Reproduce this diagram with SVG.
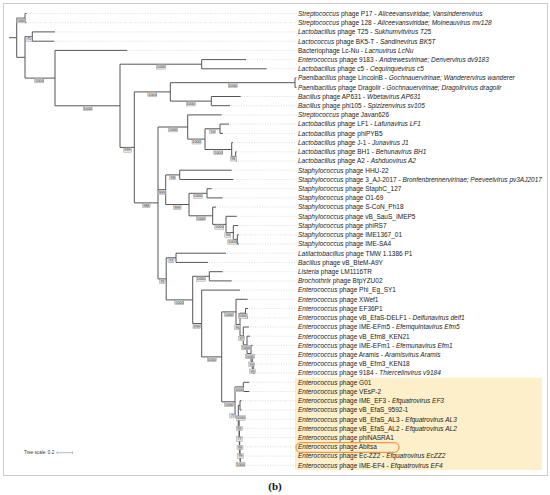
<svg xmlns="http://www.w3.org/2000/svg" width="550" height="495" viewBox="0 0 550 495">
<style>
.lbl{font-family:"Liberation Sans",Arial,sans-serif;font-size:6.5px;fill:#222}
.i{font-style:italic}
.br{fill:none;stroke:#555;stroke-width:1}
.ld{fill:none;stroke:#bbb;stroke-width:0.5;stroke-dasharray:1 1.5}
.bs rect{fill:#e6e6e6;stroke:#8a8a8a;stroke-width:0.4}
.bs text{font-family:"Liberation Sans",Arial,sans-serif;font-size:3.8px;fill:#333;text-anchor:middle}
</style>
<rect x="3.5" y="3.5" width="544" height="472" fill="#fff" stroke="#ccc" stroke-width="1"/>
<rect id="highlight" x="295" y="377.7" width="247" height="92.3" fill="#fcefc9"/>
<g id="leaders" class="ld">
<path d="M27.5,13.5H296M27.5,22.7H296M56,31.9H296M55.3,41.2H296M128.3,50.4H296M247,59.6H296M267.7,68.8H296M241.7,96.5H296M231,105.7H296M222.7,114.9H296M230,124.1H296M224,133.4H296M234,142.6H296M237.7,151.8H296M237.7,161H296M232.7,170.2H296M234.3,179.5H296M212.7,188.7H296M223.7,197.9H296M217,207.1H296M237.7,216.3H296M239.3,225.6H296M240,234.8H296M240,244H296M227,253.2H296M209,262.4H296M223.7,271.7H296M232.7,280.9H296M241,290.1H296M248.7,299.3H296M249,308.5H296M249,317.8H296M250,327H296M251,336.2H296M253.5,345.4H296M255,354.6H296M256,363.9H296M256,373.1H296M250.3,382.3H296M250.3,391.5H296M242.5,400.7H296M242.5,410H296M242.5,419.2H296M242.5,428.4H296M242.5,437.6H296M242.5,446.8H296M242.5,456.1H296M242.5,465.3H296"/>
</g>
<g id="connectors" class="br">
<path d="M9,37.7H16.7M16.7,18.1V57.3M16.7,18.1H25M16.7,57.3H25
M25,13.5V22.7M25,13.5H26.5M25,22.7H26.5
M25,36.6V78.1M25,36.6H32.3M25,78.1H55
M32.3,31.9V41.2M32.3,31.9H55M32.3,41.2H54.3
M55,50.4V105.8M55,50.4H127.3M55,105.8H120
M120,64.2V147.4M120,64.2H201.7M120,147.4H134.3
M201.7,59.6V68.8M201.7,59.6H246M201.7,68.8H266.7
M134.3,91.9V202.9M134.3,91.9H170.3M134.3,202.9H158
M170.3,82.7V101.1M170.3,82.7H295M170.3,101.1H211.3
M295,78V87.3M295,78H296.5M295,87.3H296.5
M211.3,96.5V105.7M211.3,96.5H240.7M211.3,105.7H230
M158,127V278.9M158,127H187.7M158,189.7H165.7M158,278.9H166.2
M187.7,114.9V139.1M187.7,114.9H221.7M187.7,139.1H205
M205,128.8V149.5M205,128.8H220M205,149.5H231.7
M220,124.1V133.4M220,124.1H229M220,133.4H223
M231.7,142.6V156.4M231.7,142.6H233M231.7,156.4H235.7
M235.7,151.8V161M235.7,151.8H236.7M235.7,161H236.7
M165.7,174.9V204.5M165.7,174.9H179.7M165.7,204.5H189
M179.7,170.2V179.5M179.7,170.2H231.7M179.7,179.5H233.3
M189,193.3V215.8M189,193.3H207M189,215.8H212.7
M207,188.7V197.9M207,188.7H211.7M207,197.9H222.7
M212.7,207.1V224.4M212.7,207.1H216M212.7,224.4H226
M226,216.3V232.5M226,216.3H236.7M226,232.5H233.3
M233.3,225.6V239.4M233.3,225.6H238.3M233.3,239.4H237.3
M237.3,234.8V244M237.3,234.8H239M237.3,244H239
M166.2,257.8V299.9M166.2,257.8H176M166.2,299.9H192.7
M176,253.2V262.4M176,253.2H226M176,262.4H208
M192.7,276.3V323.5M192.7,276.3H209.3M192.7,323.5H201.7
M209.3,271.7V280.9M209.3,271.7H222.7M209.3,280.9H231.7
M201.7,290.1V356.9M201.7,290.1H240M201.7,356.9H221.7
M221.7,311.9V401.8M221.7,311.9H236M221.7,401.8H235
M236,299.3V324.5M236,299.3H247.7M236,324.5H240
M240,313.2V335.9M240,313.2H245.5M240,335.9H243.3
M245.5,308.5V317.8M245.5,308.5H248M245.5,317.8H248
M243.3,327V344.9M243.3,327H249M243.3,344.9H247
M247,336.2V353.5M247,336.2H250M247,353.5H251
M251,345.4V361.6M251,345.4H252.5M251,361.6H252.3
M252.3,354.6V368.5M252.3,354.6H254M252.3,368.5H253.3
M253.3,363.9V373.1M253.3,363.9H255M253.3,373.1H255
M235,386.9V416.7M235,386.9H243.3M235,416.7H238.3
M243.3,382.3V391.5M243.3,382.3H249.3M243.3,391.5H249.3
M238.3,405.4V428.1M238.3,405.4H240M238.3,428.1H239.1
M240,400.7V410M240,400.7H241.5M240,410H241.5
M239.1,419.2V437.1M239.1,419.2H241.5M239.1,437.1H239.4
M239.4,428.4V445.7M239.4,428.4H241.5M239.4,445.7H239.7
M239.7,437.6V453.8M239.7,437.6H241.5M239.7,453.8H240
M240,446.8V460.7M240,446.8H241.5M240,460.7H240.3
M240.3,456.1V465.3M240.3,456.1H241.5M240.3,465.3H241.5"/>
</g>
<g id="support" class="bs">
<rect x="16.5" y="18.5" width="9" height="4.4"/><text x="21" y="22.1">1000</text>
<rect x="26" y="36.8" width="6" height="4.4"/><text x="29" y="40.4">75</text>
<rect x="34.8" y="78.5" width="9" height="4.4"/><text x="39.3" y="82.1">1000</text>
<rect x="83.2" y="106.1" width="9" height="4.4"/><text x="87.7" y="109.7">1000</text>
<rect x="156.5" y="64.7" width="9" height="4.4"/><text x="161" y="68.3">1000</text>
<rect x="123.8" y="147.8" width="7.5" height="4.4"/><text x="127.5" y="151.4">999</text>
<rect x="147.8" y="92.3" width="9" height="4.4"/><text x="152.3" y="95.9">1000</text>
<rect x="228.2" y="83.1" width="9" height="4.4"/><text x="232.7" y="86.7">1000</text>
<rect x="186.2" y="101.6" width="9" height="4.4"/><text x="190.7" y="105.2">1000</text>
<rect x="142.6" y="203.3" width="7.5" height="4.4"/><text x="146.3" y="206.9">988</text>
<rect x="168.5" y="127.5" width="9" height="4.4"/><text x="173" y="131.1">1000</text>
<rect x="192" y="139.6" width="9" height="4.4"/><text x="196.5" y="143.2">1000</text>
<rect x="209.7" y="129.2" width="6" height="4.4"/><text x="212.7" y="132.8">94</text>
<rect x="213.8" y="150" width="9" height="4.4"/><text x="218.3" y="153.6">1000</text>
<rect x="230.3" y="156.6" width="6" height="4.4"/><text x="233.3" y="160.2">96</text>
<rect x="158.2" y="190.1" width="7.5" height="4.4"/><text x="161.9" y="193.7">999</text>
<rect x="169.7" y="175.3" width="6" height="4.4"/><text x="172.7" y="178.9">98</text>
<rect x="173.6" y="205" width="7.5" height="4.4"/><text x="177.3" y="208.6">999</text>
<rect x="193.5" y="193.8" width="9" height="4.4"/><text x="198" y="197.4">1000</text>
<rect x="196.5" y="216.2" width="9" height="4.4"/><text x="201" y="219.8">1000</text>
<rect x="214.8" y="224.8" width="9" height="4.4"/><text x="219.3" y="228.4">1000</text>
<rect x="224.8" y="232.8" width="6" height="4.4"/><text x="227.8" y="236.4">94</text>
<rect x="227.8" y="239.8" width="9" height="4.4"/><text x="232.3" y="243.4">1000</text>
<rect x="159.3" y="279.3" width="6" height="4.4"/><text x="162.3" y="282.9">79</text>
<rect x="168" y="258.3" width="6" height="4.4"/><text x="171" y="261.9">77</text>
<rect x="174.8" y="300.3" width="9" height="4.4"/><text x="179.3" y="303.9">1000</text>
<rect x="196.5" y="276.8" width="9" height="4.4"/><text x="201" y="280.4">1000</text>
<rect x="193" y="324" width="7.5" height="4.4"/><text x="196.7" y="327.6">999</text>
<rect x="207.2" y="357.3" width="9" height="4.4"/><text x="211.7" y="360.9">1000</text>
<rect x="224.5" y="312.3" width="9" height="4.4"/><text x="229" y="315.9">1000</text>
<rect x="238.2" y="313.8" width="9" height="4.4"/><text x="242.7" y="317.4">1000</text>
<rect x="234.7" y="325" width="6" height="4.4"/><text x="237.7" y="328.6">96</text>
<rect x="238.7" y="336.3" width="6" height="4.4"/><text x="241.7" y="339.9">97</text>
<rect x="241.5" y="345.3" width="9" height="4.4"/><text x="246" y="348.9">1000</text>
<rect x="245.5" y="354.1" width="9" height="4.4"/><text x="250" y="357.7">1000</text>
<rect x="248.7" y="362" width="6" height="4.4"/><text x="251.7" y="365.6">99</text>
<rect x="249.5" y="369" width="6" height="4.4"/><text x="252.5" y="372.6">99</text>
<rect x="234.7" y="387.4" width="9" height="4.4"/><text x="239.2" y="391">1000</text>
<rect x="224.5" y="402.1" width="9" height="4.4"/><text x="229" y="405.7">1000</text>
<rect x="229.8" y="413.6" width="6" height="4.4"/><text x="232.8" y="417.2">77</text>
<rect x="236.2" y="415.8" width="9" height="4.4"/><text x="240.7" y="419.4">1000</text>
<rect x="236.3" y="426.3" width="6" height="4.4"/><text x="239.3" y="429.9">99</text>
<rect x="236.3" y="436.8" width="6" height="4.4"/><text x="239.3" y="440.4">77</text>
<rect x="237" y="445.3" width="6" height="4.4"/><text x="240" y="448.9">99</text>
<rect x="237.5" y="453.8" width="6" height="4.4"/><text x="240.5" y="457.4">99</text>
<rect x="236" y="462.1" width="9" height="4.4"/><text x="240.5" y="465.7">1000</text>
</g>
<g id="labels" class="lbl">
<g id="leaf01"><text x="298" y="15.8"><tspan class="i">Streptococcus</tspan> phage P17 - <tspan class="i">Aliceevansviridae; Vansinderenvirus</tspan></text></g>
<g id="leaf02"><text x="298" y="25"><tspan class="i">Streptococcus</tspan> phage 128 - <tspan class="i">Aliceevansviridae; Moineauvirus mv128</tspan></text></g>
<g id="leaf03"><text x="298" y="34.2"><tspan class="i">Lactobacillus</tspan> phage T25 - <tspan class="i">Sukhumvitvirus T25</tspan></text></g>
<g id="leaf04"><text x="298" y="43.5"><tspan class="i">Lactococcus</tspan> phage BK5-T - <tspan class="i">Sandinevirus BK5T</tspan></text></g>
<g id="leaf05"><text x="298" y="52.7">Bacteriophage Lc-Nu - <tspan class="i">Lacnuvirus LcNu</tspan></text></g>
<g id="leaf06"><text x="298" y="61.9"><tspan class="i">Enterococcus</tspan> phage 9183 - <tspan class="i">Andrewesvirinae; Denvervirus dv9183</tspan></text></g>
<g id="leaf07"><text x="298" y="71.1"><tspan class="i">Lactobacillus</tspan> phage c5 - <tspan class="i">Cequinquevirus c5</tspan></text></g>
<g id="leaf08"><text x="298" y="80.3"><tspan class="i">Paenibacillus</tspan> phage LincolnB - <tspan class="i">Gochnauervirinae; Wanderervirus wanderer</tspan></text></g>
<g id="leaf09"><text x="298" y="89.6"><tspan class="i">Paenibacillus</tspan> phage Dragolir - <tspan class="i">Gochnauervirinae; Dragolirvirus dragolir</tspan></text></g>
<g id="leaf10"><text x="298" y="98.8"><tspan class="i">Bacillus</tspan> phage AP631 - <tspan class="i">Wbetavirus AP631</tspan></text></g>
<g id="leaf11"><text x="298" y="108"><tspan class="i">Bacillus</tspan> phage phi105 - <tspan class="i">Spizizenvirus sv105</tspan></text></g>
<g id="leaf12"><text x="298" y="117.2"><tspan class="i">Streptococcus</tspan> phage Javan626</text></g>
<g id="leaf13"><text x="298" y="126.4"><tspan class="i">Lactobacillus</tspan> phage LF1 - <tspan class="i">Lafunavirus LF1</tspan></text></g>
<g id="leaf14"><text x="298" y="135.7"><tspan class="i">Lactobacillus</tspan> phage phiPYB5</text></g>
<g id="leaf15"><text x="298" y="144.9"><tspan class="i">Lactobacillus</tspan> phage J-1 - <tspan class="i">Junavirus J1</tspan></text></g>
<g id="leaf16"><text x="298" y="154.1"><tspan class="i">Lactobacillus</tspan> phage BH1 - <tspan class="i">Behunavirus BH1</tspan></text></g>
<g id="leaf17"><text x="298" y="163.3"><tspan class="i">Lactobacillus</tspan> phage A2 - <tspan class="i">Ashduovirus A2</tspan></text></g>
<g id="leaf18"><text x="298" y="172.5"><tspan class="i">Staphylococcus</tspan> phage HHU-22</text></g>
<g id="leaf19"><text x="298" y="181.8"><tspan class="i">Staphylococcus</tspan> phage 3_AJ-2017 - <tspan class="i">Bronfenbrennervirinae; Peeveelvirus pv3AJ2017</tspan></text></g>
<g id="leaf20"><text x="298" y="191"><tspan class="i">Staphylococcus</tspan> phage StaphC_127</text></g>
<g id="leaf21"><text x="298" y="200.2"><tspan class="i">Staphylococcus</tspan> phage O1-69</text></g>
<g id="leaf22"><text x="298" y="209.4"><tspan class="i">Staphylococcus</tspan> phage S-CoN_Ph18</text></g>
<g id="leaf23"><text x="298" y="218.6"><tspan class="i">Staphylococcus</tspan> phage vB_SauS_IMEP5</text></g>
<g id="leaf24"><text x="298" y="227.9"><tspan class="i">Staphylococcus</tspan> phage phiRS7</text></g>
<g id="leaf25"><text x="298" y="237.1"><tspan class="i">Staphylococcus</tspan> phage IME1367_01</text></g>
<g id="leaf26"><text x="298" y="246.3"><tspan class="i">Staphylococcus</tspan> phage IME-SA4</text></g>
<g id="leaf27"><text x="298" y="255.5"><tspan class="i">Latilactobacillus</tspan> phage TMW 1.1386 P1</text></g>
<g id="leaf28"><text x="298" y="264.7"><tspan class="i">Bacillus</tspan> phage vB_BteM-A9Y</text></g>
<g id="leaf29"><text x="298" y="274"><tspan class="i">Listeria</tspan> phage LM1116TR</text></g>
<g id="leaf30"><text x="298" y="283.2"><tspan class="i">Brochothrix</tspan> phage BtpYZU02</text></g>
<g id="leaf31"><text x="298" y="292.4"><tspan class="i">Enterococcus</tspan> phage Phi_Eg_SY1</text></g>
<g id="leaf32"><text x="298" y="301.6"><tspan class="i">Enterococcus</tspan> phage XWef1</text></g>
<g id="leaf33"><text x="298" y="310.8"><tspan class="i">Enterococcus</tspan> phage EF36P1</text></g>
<g id="leaf34"><text x="298" y="320.1"><tspan class="i">Enterococcus</tspan> phage vB_EfaS-DELF1 - <tspan class="i">Delfunavirus delf1</tspan></text></g>
<g id="leaf35"><text x="298" y="329.3"><tspan class="i">Enterococcus</tspan> phage IME-EFm5 - <tspan class="i">Efemquintavirus Efm5</tspan></text></g>
<g id="leaf36"><text x="298" y="338.5"><tspan class="i">Enterococcus</tspan> phage vB_Efm8_KEN21</text></g>
<g id="leaf37"><text x="298" y="347.7"><tspan class="i">Enterococcus</tspan> phage IME-EFm1 - <tspan class="i">Efemunavirus Efm1</tspan></text></g>
<g id="leaf38"><text x="298" y="356.9"><tspan class="i">Enterococcus</tspan> phage Aramis - <tspan class="i">Aramisvirus Aramis</tspan></text></g>
<g id="leaf39"><text x="298" y="366.2"><tspan class="i">Enterococcus</tspan> phage vB_Efm3_KEN18</text></g>
<g id="leaf40"><text x="298" y="375.4"><tspan class="i">Enterococcus</tspan> phage 9184 - <tspan class="i">Thiercelinvirus v9184</tspan></text></g>
<g id="leaf41"><text x="298" y="384.6"><tspan class="i">Enterococcus</tspan> phage G01</text></g>
<g id="leaf42"><text x="298" y="393.8"><tspan class="i">Enterococcus</tspan> phage VEsP-2</text></g>
<g id="leaf43"><text x="298" y="403"><tspan class="i">Enterococcus</tspan> phage IME_EF3 - <tspan class="i">Efquatrovirus EF3</tspan></text></g>
<g id="leaf44"><text x="298" y="412.3"><tspan class="i">Enterococcus</tspan> phage vB_EfaS_9592-1</text></g>
<g id="leaf45"><text x="298" y="421.5"><tspan class="i">Enterococcus</tspan> phage vB_EfaS_AL3 - <tspan class="i">Efquatrovirus AL3</tspan></text></g>
<g id="leaf46"><text x="298" y="430.7"><tspan class="i">Enterococcus</tspan> phage vB_EfaS_AL2 - <tspan class="i">Efquatrovirus AL2</tspan></text></g>
<g id="leaf47"><text x="298" y="439.9"><tspan class="i">Enterococcus</tspan> phage phiNASRA1</text></g>
<g id="leaf48"><text x="298" y="449.1"><tspan class="i">Enterococcus</tspan> phage Abitsa</text></g>
<g id="leaf49"><text x="298" y="458.4"><tspan class="i">Enterococcus</tspan> phage Ec-ZZ2 - <tspan class="i">Efquatrovirus EcZZ2</tspan></text></g>
<g id="leaf50"><text x="298" y="467.6"><tspan class="i">Enterococcus</tspan> phage IME-EF4 - <tspan class="i">Efquatrovirus EF4</tspan></text></g>
</g>
<rect id="abitsa-mark" x="296" y="442.7" width="103" height="9.6" rx="4.5" fill="none" stroke="#f07f1e" stroke-width="1"/>
<g id="scale">
<text x="24" y="454.2" font-family="'Liberation Sans',Arial,sans-serif" font-size="4.6" fill="#333">Tree scale: 0.2</text>
<path d="M57,452.7H72.6M57,451.5V453.9M72.6,451.5V453.9" fill="none" stroke="#777" stroke-width="0.5"/>
</g>
<text x="275" y="490" font-family="'Liberation Serif','Times New Roman',serif" font-size="11" font-weight="bold" fill="#111" text-anchor="middle">(b)</text>
</svg>
